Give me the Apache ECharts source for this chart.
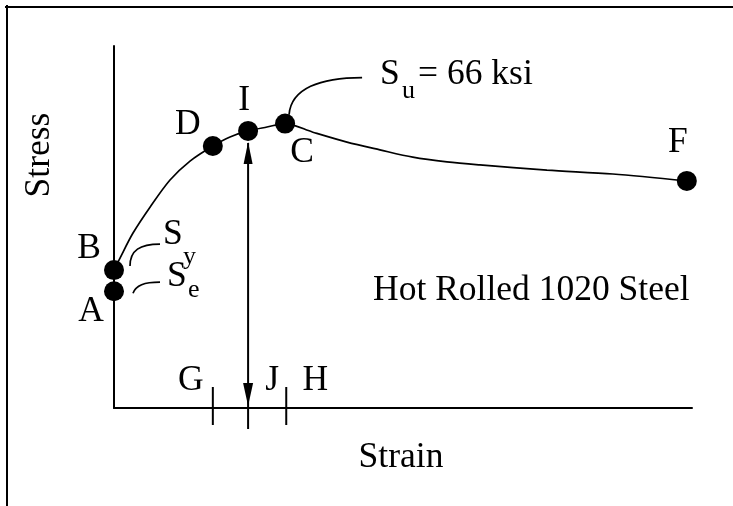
<!DOCTYPE html>
<html><head><meta charset="utf-8">
<script src="https://cdn.jsdelivr.net/npm/echarts@6/dist/echarts.min.js"></script>
<style>html,body{margin:0;padding:0;background:#fff}#c{width:733px;height:506px}</style>
</head><body><div id="c"></div>
<script>
// ---- data (strain in arbitrary units, stress in ksi) ----
const pointNames  = ['A', 'B', 'D', 'I', 'C', 'F'];
const pointStrain = [0, 0, 17.1, 23.2, 29.6, 99.1];
const pointStress = [27.1, 32.0, 60.8, 64.3, 66.0, 52.7];
const curveStrain = [0, 1.04, 3.29, 6.23, 9.69, 13.15, 17.1, 20.07, 23.2, 26.47, 29.6, 34.4, 40.3, 46.0, 51.7, 57.6, 63.3, 74.9, 86.3, 99.1];
const curveStress = [32.0, 34.8, 40.6, 46.6, 52.9, 57.3, 60.8, 62.9, 64.3, 65.2, 66.0, 64.0, 61.7, 59.9, 58.2, 57.1, 56.4, 55.2, 54.3, 52.7];
const strainTickNames = ['G', 'H'];
const strainTicks = [17.1, 29.8];
const arrowLabel = 'J';
const ultimateStrength = 66;
const materialName = 'Hot Rolled 1020 Steel';
const xName = 'Strain';
const yName = 'Stress';

const FONT = 'Liberation Serif';
const FS = 35.5, SUB = 26;
const chart = echarts.init(document.getElementById('c'), null, {renderer: 'canvas'});
const curve = curveStrain.map((x, i) => [x, curveStress[i]]);
const pts = pointNames.map((n, i) => ({name: n, value: [pointStrain[i], pointStress[i]]}));

chart.setOption({
  animation: false,
  backgroundColor: '#fff',
  grid: {left: 114, top: 46, width: 578, height: 362},
  xAxis: {type: 'value', min: 0, max: 100, axisLine: {lineStyle: {color: '#000', width: 2}},
    axisTick: {show: false}, axisLabel: {show: false}, splitLine: {show: false}},
  yAxis: {type: 'value', min: 0, max: 84, axisLine: {show: true, lineStyle: {color: '#000', width: 2}},
    axisTick: {show: false}, axisLabel: {show: false}, splitLine: {show: false}},
  series: [
    {type: 'line', data: curve, smooth: 0.3, showSymbol: false, symbol: 'none',
      lineStyle: {color: '#000', width: 1.7}, z: 2},
    {type: 'scatter', data: pts, symbolSize: 20, itemStyle: {color: '#000', opacity: 1}, z: 3}
  ]
});

function px(name) {
  const i = pointNames.indexOf(name);
  return chart.convertToPixel({gridIndex: 0}, [pointStrain[i], pointStress[i]]);
}
const axisY = chart.convertToPixel({gridIndex: 0}, [0, 0])[1];
function txt(x, y, text, size, align, extra) {
  return Object.assign({type: 'text', x: x, y: y, silent: true,
    style: {text: text, font: size + 'px "' + FONT + '"', fill: '#000',
      align: align || 'center', textAlign: align || 'center',
      verticalAlign: 'middle', textVerticalAlign: 'middle'}}, extra || {});
}
function seg(x1, y1, x2, y2, w) {
  return {type: 'line', silent: true, shape: {x1, y1, x2, y2}, style: {stroke: '#000', lineWidth: w || 2}};
}
function bez(p, a, b, c, d) {
  return {type: 'bezierCurve', silent: true,
    shape: {x1: p[0] + a[0], y1: p[1] + a[1], cpx1: p[0] + b[0], cpy1: p[1] + b[1],
      cpx2: p[0] + c[0], cpy2: p[1] + c[1], x2: p[0] + d[0], y2: p[1] + d[1]},
    style: {stroke: '#000', lineWidth: 1.7, fill: null}};
}

const g = [];
// frame
g.push(seg(7, 5, 7, 506, 2));
g.push(seg(5, 7, 733, 7, 2));

// point labels
const labelOffsets = {A: [-23, 20], B: [-25, -21], D: [-25, -21], I: [-4, -30], C: [17, 29], F: [-9, -38]};
pointNames.forEach(n => {
  const p = px(n), o = labelOffsets[n];
  g.push(txt(p[0] + o[0], p[1] + o[1], n, FS));
});

// strain ticks G, H
const tickOffsets = [[-22, -27], [29, -27]];
strainTicks.forEach((s, i) => {
  const x = chart.convertToPixel({gridIndex: 0}, [s, 0])[0];
  g.push(seg(x, axisY - 21, x, axisY + 17, 2));
  g.push(txt(x + tickOffsets[i][0], axisY + tickOffsets[i][1], strainTickNames[i], FS));
});

// double arrow at point I
const pI = px('I');
const ax = pI[0];
g.push(seg(ax, pI[1] + 12, ax, axisY + 21, 2));
g.push({type: 'polygon', silent: true, shape: {points: [[ax, pI[1] + 11], [ax - 4.5, pI[1] + 33], [ax + 4.5, pI[1] + 33]]}, style: {fill: '#000'}});
g.push({type: 'polygon', silent: true, shape: {points: [[ax, axisY - 2], [ax - 5, axisY - 25], [ax + 5, axisY - 25]]}, style: {fill: '#000'}});
g.push(txt(ax + 24, axisY - 27, arrowLabel, FS));

// Sy, Se callouts
const pB = px('B'), pA = px('A'), pC = px('C');
g.push(bez(pB, [16, -4], [16, -20], [26, -26], [46, -26]));
g.push(txt(pB[0] + 49, pB[1] - 35, 'S', FS, 'left'));
g.push(txt(pB[0] + 69, pB[1] - 13, 'y', SUB, 'left'));
g.push(bez(pA, [19, 2], [22, -6], [30, -9], [46, -9]));
g.push(txt(pA[0] + 53, pA[1] - 15, 'S', FS, 'left'));
g.push(txt(pA[0] + 74, pA[1] - 1, 'e', SUB, 'left'));

// Su callout
g.push(bez(pC, [4, -9], [6, -35], [35, -46], [77, -46]));
g.push(txt(pC[0] + 95, pC[1] - 49, 'S', FS, 'left'));
g.push(txt(pC[0] + 117, pC[1] - 32, 'u', SUB, 'left'));
g.push(txt(pC[0] + 133, pC[1] - 49, '= ' + ultimateStrength + ' ksi', FS, 'left'));

// titles
g.push(txt(373, 291, materialName, FS, 'left'));
g.push(txt(401, 458, xName, FS));
g.push(txt(40, 155, yName, FS, 'center', {rotation: Math.PI / 2}));

chart.setOption({graphic: {elements: g}});
</script>
</body></html>
